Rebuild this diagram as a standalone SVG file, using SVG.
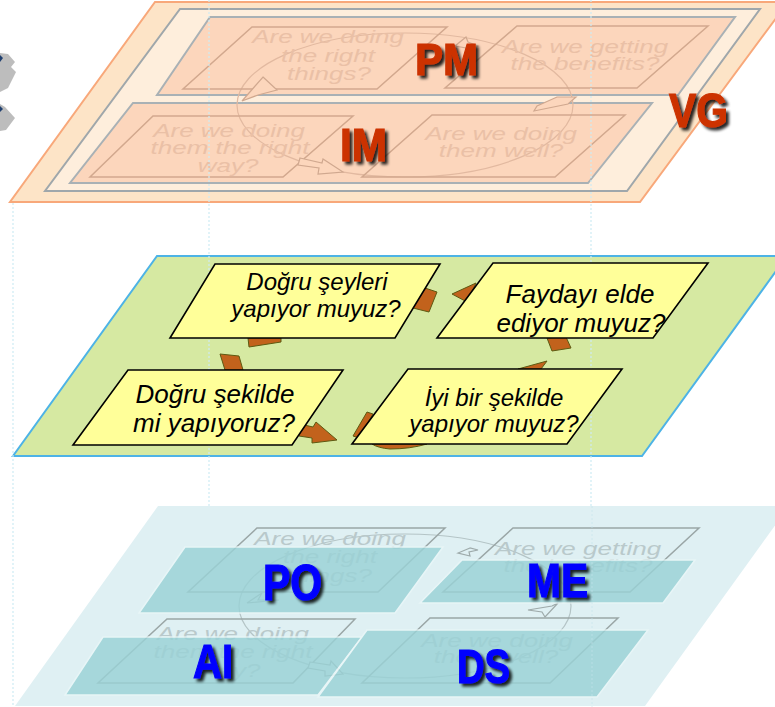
<svg xmlns="http://www.w3.org/2000/svg" width="775" height="707" viewBox="0 0 775 707">
<defs>
<style>
.ftxt{font-family:"Liberation Sans",Arial,sans-serif;font-style:italic;font-size:26px;text-anchor:middle}
.ftop{fill:#EAC0A6}
.fbot{fill:#B9C9CB}
.fbox-top{fill:none;stroke:#D2A88E;stroke-width:1.5}
.fbox-bot{fill:none;stroke:#9AA6A6;stroke-width:1.5}
.panel-top{fill:#FCD6BC;stroke:#A9B1B5;stroke-width:2}
.teal{fill:#9AD2D6;opacity:0.82;stroke:#EAF7F8;stroke-width:1.5}
.ybox{fill:#FFFF99;stroke:#000;stroke-width:1.6}
.ytxt{font-family:"Liberation Sans",Arial,sans-serif;font-style:italic;fill:#000;text-anchor:middle}
.brown{fill:#C2621C;stroke:#5E5A12;stroke-width:1}
.lbl{font-family:"Liberation Sans",Arial,sans-serif;font-weight:bold;filter:url(#sh);stroke-width:1.2}
.red{fill:#CC3300;stroke:#CC3300}
.blue{fill:#0000FF;stroke:#0000FF}
.dot{stroke:#CDEBF3;stroke-width:1.2;stroke-dasharray:2 2;fill:none}
.dot-faint{stroke:#C4E4EC;stroke-width:1;stroke-dasharray:2 2;fill:none;opacity:0.6}
.ring-top{fill:none;stroke:#E2B9A0;stroke-width:1.2}
.ring-bot{fill:none;stroke:#B4C4C6;stroke-width:1.2}
.ah-top{fill:#FCD6BC;stroke:#D0A88F;stroke-width:1.2}
.ah-bot{fill:#DFF0F3;stroke:#9EAAAA;stroke-width:1.2}
</style>
<filter id="sh" x="-20%" y="-20%" width="150%" height="150%">
<feGaussianBlur in="SourceAlpha" stdDeviation="1.4"/>
<feOffset dx="2.5" dy="2.5"/>
<feComponentTransfer><feFuncA type="linear" slope="0.85"/></feComponentTransfer>
<feMerge><feMergeNode/><feMergeNode in="SourceGraphic"/></feMerge>
</filter>
</defs>
<rect width="775" height="707" fill="#FFFFFF"/>

<!-- left edge icons -->
<g id="corner-icons">
<polygon points="0,53 8,54 15,62 11,67 16,72 8,88 0,92" fill="#BDBDBD"/>
<polygon points="0,55 3,58 0,62" fill="#1F3F6F"/>
<polygon points="0,104 5,107 15,118 6,130 0,131" fill="#BDBDBD"/>
<polygon points="0,106 3,109 0,112" fill="#1F3F6F"/>
</g>

<!-- TOP LAYER: VG -->
<g id="layer-vg">
<polygon points="155,2 788,2 640,202 10,202" fill="#FDE4C7" stroke="#F8A87A" stroke-width="2"/>
<polygon points="180,9 760,9 627,191 45,191" fill="#FEEEDC" stroke="#9FA7AB" stroke-width="2"/>
<polygon class="panel-top" points="210,17 735,17 678,95 157,95"/>
<polygon class="panel-top" points="133,103 652,103 588,183 70,183"/>
<ellipse class="ring-top" cx="405" cy="105" rx="168" ry="72"/>
<g id="top-box-1">
<polygon class="fbox-top" points="252,27 447,27 377,89 183,89"/>
<g class="ftxt ftop">
<text transform="translate(328,43) scale(1,0.7)">Are we doing</text>
<text transform="translate(328,62) scale(1,0.7)">the right</text>
<text transform="translate(329,80) scale(1,0.7)">things?</text>
</g>
</g>
<g id="top-box-2">
<polygon class="fbox-top" points="517,26 708,26 637,88 445,88"/>
<g class="ftxt ftop">
<text transform="translate(585,53) scale(1,0.7)">Are we getting</text>
<text transform="translate(585,70) scale(1,0.7)">the benefits?</text>
</g>
</g>
<g id="top-box-3">
<polygon class="fbox-top" points="153,116 353,116 283,177 90,177"/>
<g class="ftxt ftop">
<text transform="translate(229,137) scale(1,0.7)">Are we doing</text>
<text transform="translate(230,154) scale(1,0.7)">them the right</text>
<text transform="translate(228,172) scale(1,0.7)">way?</text>
</g>
</g>
<g id="top-box-4">
<polygon class="fbox-top" points="432,115 625,115 555,177 362,177"/>
<g class="ftxt ftop">
<text transform="translate(501,140) scale(1,0.7)">Are we doing</text>
<text transform="translate(501,157) scale(1,0.7)">them well?</text>
</g>
</g>
</g>

<!-- MIDDLE LAYER -->
<g id="layer-middle">
<polygon points="157,256 787,256 642,456 13,456" fill="#D6E9A2" stroke="#4DB3E6" stroke-width="2"/>
</g>

<!-- dotted guide lines (over top and middle layers) -->
<g id="guides">
<line class="dot" x1="13" y1="203" x2="13" y2="707"/>
<line class="dot" x1="209" y1="0" x2="209" y2="506"/>
<line class="dot" x1="591" y1="0" x2="591" y2="506"/>
</g>

<!-- BOTTOM LAYER -->
<g id="layer-bottom">
<polygon points="158,506 789,506 645,706 15,706" fill="#DFF0F3"/>
<ellipse class="ring-bot" cx="405" cy="606" rx="166" ry="72"/>
<g id="bot-box-1">
<polygon class="fbox-bot" points="257,528 445,528 378,592 188,592"/>
<g class="ftxt fbot">
<text transform="translate(330,545) scale(1,0.7)">Are we doing</text>
<text transform="translate(330,563) scale(1,0.7)">the right</text>
<text transform="translate(330,582) scale(1,0.7)">things?</text>
</g>
</g>
<g id="bot-box-2">
<polygon class="fbox-bot" points="513,528 699,528 630,592 443,592"/>
<g class="ftxt fbot">
<text transform="translate(578,555) scale(1,0.7)">Are we getting</text>
<text transform="translate(578,572) scale(1,0.7)">the benefits?</text>
</g>
</g>
<g id="bot-box-3">
<polygon class="fbox-bot" points="167,619 355,619 293,683 98,683"/>
<g class="ftxt fbot">
<text transform="translate(233,640) scale(1,0.7)">Are we doing</text>
<text transform="translate(233,658) scale(1,0.7)">them the right</text>
<text transform="translate(230,677) scale(1,0.7)">way?</text>
</g>
</g>
<g id="bot-box-4">
<polygon class="fbox-bot" points="430,618 618,618 550,683 362,683"/>
<g class="ftxt fbot">
<text transform="translate(497,647) scale(1,0.7)">Are we doing</text>
<text transform="translate(496,663) scale(1,0.7)">them well?</text>
</g>
</g>
</g>

<!-- CONNECTORS -->
<g id="connectors">
<!-- faint top cycle arrowheads -->
<polygon class="ah-top" points="466,37 468,42 478,46 466,51 466,48 455,46"/>
<polygon class="ah-top" points="557,97 576,97 568,104 534,111 537,106"/>
<polygon class="ah-top" points="300,158 322,163 323,159 343,172 318,174 319,168 298,165"/>
<polygon class="ah-top" points="263,77 277,90 258,95 242,101"/>
<!-- faint bottom cycle arrowheads -->
<polygon class="ah-bot" points="470,548 458,553 470,556 469,552 478,550"/>
<polygon class="ah-bot" points="528,610 552,606 558,603 545,617 542,612"/>
<polygon class="ah-bot" points="310,662 330,665 331,661 343,674 325,676 325,671 308,668"/>
<polygon class="ah-bot" points="247,603 262,593 258,600 279,600"/>
<!-- middle cycle arrow fragments (brown) -->
<polygon class="brown" points="248,338 281,338 281,342 249,347"/>
<polygon class="brown" points="220,354 239,356 243,370 225,370"/>
<polygon class="brown" points="300,424 313,427 316,422 337,440 312,443 312,438 299,436"/>
<polygon class="brown" points="353,436 367,412 373,414 359,438"/>
<path class="brown" d="M372,444 L427,444 Q410,449 390,449 Q378,448 372,444 Z"/>
<polygon class="brown" points="518,369 547,361 541,369"/>
<polygon class="brown" points="547,338 566,337 571,348 552,351"/>
<polygon class="brown" points="452,294 476,283 467,302"/>
<polygon class="brown" points="413,308 422,287 437,292 429,312"/>
</g>

<!-- middle yellow boxes -->
<g id="box-dogru-seyleri">
<polygon class="ybox" points="215,264 440,264 395,338 170,338"/>
<text class="ytxt" font-size="24" x="317" y="290">Doğru şeyleri</text>
<text class="ytxt" font-size="24" x="316" y="317">yapıyor muyuz?</text>
</g>
<g id="box-faydayi">
<polygon class="ybox" points="493,263 708,263 653,338 437,338"/>
<text class="ytxt" font-size="26" x="580" y="303">Faydayı elde</text>
<text class="ytxt" font-size="26" x="581" y="332">ediyor muyuz?</text>
</g>
<g id="box-dogru-sekilde">
<polygon class="ybox" points="128,370 343,370 292,445 73,445"/>
<text class="ytxt" font-size="26" x="215" y="403">Doğru şekilde</text>
<text class="ytxt" font-size="26" x="214" y="432">mi yapıyoruz?</text>
</g>
<g id="box-iyi-bir">
<polygon class="ybox" points="408,369 622,369 567,444 352,444"/>
<text class="ytxt" font-size="24" x="494" y="406">İyi bir şekilde</text>
<text class="ytxt" font-size="24" x="494" y="432">yapıyor muyuz?</text>
</g>

<!-- bottom teal panels -->
<g id="panel-po"><polygon class="teal" points="185,547 443,547 395,613 139,613"/></g>
<g id="panel-me"><polygon class="teal" points="462,560 695,560 663,603 420,603"/></g>
<g id="panel-ai"><polygon class="teal" points="103,637 362,637 318,695 65,695"/></g>
<g id="panel-ds"><polygon class="teal" points="367,630 648,630 597,697 318,697"/></g>

<!-- faint guide continuation through bottom layer -->
<g id="guides-bottom">
<line class="dot-faint" x1="592" y1="506" x2="592" y2="707"/>
</g>

<!-- labels -->
<g id="labels">
<text class="lbl red" x="415" y="75" font-size="45" textLength="63" lengthAdjust="spacingAndGlyphs">PM</text>
<text class="lbl red" x="340" y="161" font-size="46" textLength="47" lengthAdjust="spacingAndGlyphs">IM</text>
<text class="lbl red" x="669" y="127" font-size="48" textLength="59" lengthAdjust="spacingAndGlyphs">VG</text>
<text class="lbl blue" x="263" y="600" font-size="50" textLength="59" lengthAdjust="spacingAndGlyphs">PO</text>
<text class="lbl blue" x="527" y="597" font-size="49" textLength="61" lengthAdjust="spacingAndGlyphs">ME</text>
<text class="lbl blue" x="193" y="678" font-size="49" textLength="40" lengthAdjust="spacingAndGlyphs">AI</text>
<text class="lbl blue" x="457" y="683" font-size="49" textLength="53" lengthAdjust="spacingAndGlyphs">DS</text>
</g>
</svg>
